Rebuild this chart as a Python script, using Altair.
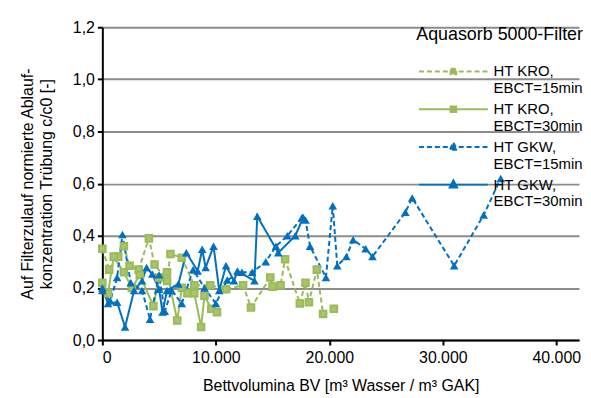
import altair as alt
import pandas as pd

series_names = ["HT KRO, EBCT=15min", "HT KRO, EBCT=30min", "HT GKW, EBCT=15min", "HT GKW, EBCT=30min"]

kro15_x = [0, 600, 1400, 1900, 2400, 3200, 4100, 4600, 5700, 6000, 7000, 8100, 9500, 10900, 12400, 13100,
           14800, 15000, 15700, 16100, 17400, 17900, 18200, 18900, 19450, 20400]
kro15_y = [0.35, 0.27, 0.32, 0.36, 0.285, 0.27, 0.39, 0.29, 0.227, 0.33, 0.316, 0.21, 0.21, 0.195, 0.21, 0.125,
           0.24, 0.205, 0.21, 0.31, 0.14, 0.22, 0.145, 0.27, 0.10, 0.12]

kro30_x = [0, 500, 1000, 1900, 2600, 3300, 4500, 5000, 5700, 6600, 7000, 7500, 8100, 8700, 9000, 9600, 10100]
kro30_y = [0.22, 0.18, 0.32, 0.26, 0.20, 0.25, 0.13, 0.24, 0.26, 0.075, 0.20, 0.18, 0.18, 0.05, 0.17, 0.12, 0.107]

gkw15_x = [0, 700, 1300, 1770, 2500, 3500, 4200, 5000, 5500, 6100, 7000, 8000, 9000, 10000, 11000, 12300,
           13200, 14400, 15300, 16300, 17600, 17900, 18300, 19700, 20300, 20700, 21500, 22100, 23200, 23800,
           26700, 27300, 31000, 33600, 35100]
gkw15_y = [0.19, 0.15, 0.24, 0.405, 0.22, 0.19, 0.08, 0.25, 0.11, 0.19, 0.14, 0.27, 0.20, 0.14, 0.23, 0.26,
           0.26, 0.30, 0.36, 0.40, 0.47, 0.46, 0.36, 0.24, 0.515, 0.285, 0.32, 0.385, 0.35, 0.32,
           0.49, 0.545, 0.285, 0.48, 0.62]

gkw30_x = [0, 500, 1300, 2000, 2800, 3500, 3900, 4400, 5000, 5300, 5700, 6700, 7400, 8400, 8800, 9100, 9800,
           10300, 10900, 11600, 11900, 13400, 13650, 15500, 17000, 17700]
gkw30_y = [0.20, 0.14, 0.145, 0.05, 0.19, 0.227, 0.278, 0.253, 0.195, 0.107, 0.19, 0.215, 0.335, 0.265, 0.348,
           0.278, 0.36, 0.19, 0.285, 0.227, 0.265, 0.227, 0.475, 0.335, 0.40, 0.47]

x_ticks = [0, 10000, 20000, 30000, 40000]
y_ticks = [0.0, 0.2, 0.4, 0.6, 0.8, 1.0, 1.2]

rows = []
for name, xs, ys in zip(series_names, [kro15_x, kro30_x, gkw15_x, gkw30_x], [kro15_y, kro30_y, gkw15_y, gkw30_y]):
    for i, (xv, yv) in enumerate(zip(xs, ys)):
        rows.append({"series": name, "bv": xv, "cc0": yv, "idx": i})
df = pd.DataFrame(rows)

GREEN = "#9BBB59"
BLUE = "#0070C0"
colors = [GREEN, GREEN, BLUE, BLUE]
dashes = [[5, 3], [1, 0], [5, 3], [1, 0]]

# legend symbols: a long line with a marker in the middle
sq = "M-3.1,0L3.1,0M-0.25,-0.25L0.25,-0.25L0.25,0.25L-0.25,0.25Z"
tri = "M-3.1,0L3.1,0M0,-0.38L0.33,0.25L-0.33,0.25Z"
legend_paths = [sq, sq, tri, tri]

x_enc = alt.X("bv:Q", scale=alt.Scale(domain=[0, 42000], nice=False),
              axis=alt.Axis(values=x_ticks, title="Bettvolumina BV [m³ Wasser / m³ GAK]",
                            labelExpr="replace(format(datum.value, ',.0f'), ',', '.')",
                            grid=False))
y_enc = alt.Y("cc0:Q", scale=alt.Scale(domain=[0, 1.2], nice=False),
              axis=alt.Axis(values=y_ticks, title=["Auf Filterzulauf normierte Ablauf-", "konzentration Trübung c/c0 [-]"],
                            labelExpr="replace(format(datum.value, '.1f'), '.', ',')",
                            grid=True))

leg = alt.Legend(title="Aquasorb 5000-Filter", orient="none", legendX=302, legendY=-1,
                 labelExpr="split(replace(datum.label, ', ', ',|'), '|')",
                 symbolSize=500, symbolStrokeWidth=2, symbolOpacity=1,
                 symbolOffset=39, labelOffset=28,
                 labelFontSize=15, titleFontSize=18, titleFontWeight="normal",
                 titleColor="black", labelColor="black", rowPadding=0, padding=0,
                 titleAnchor="end", titlePadding=15, labelBaseline="middle")

base = alt.Chart(df)

line_layers = []
for k, name in enumerate(series_names):
    enc_x = x_enc if k == 0 else alt.X("bv:Q")
    enc_y = y_enc if k == 0 else alt.Y("cc0:Q")
    line_layers.append(
        base.transform_filter(alt.datum.series == name).mark_line(
            strokeWidth=2, strokeDash=dashes[k], color=colors[k]
        ).encode(x=enc_x, y=enc_y, order="idx:Q")
    )

squares = base.transform_filter(
    (alt.datum.series == series_names[0]) | (alt.datum.series == series_names[1])).mark_point(
    shape="square", filled=False, size=44, stroke=GREEN, fill="#a9c46f", fillOpacity=1, strokeWidth=2, opacity=1
).encode(x="bv:Q", y="cc0:Q")

triangles = base.transform_filter(
    (alt.datum.series == series_names[2]) | (alt.datum.series == series_names[3])).mark_point(
    shape="triangle-up", filled=True, size=75, color=BLUE, opacity=1
).encode(x="bv:Q", y="cc0:Q")

legend_layer = base.mark_point(opacity=0, strokeWidth=2, filled=True).encode(
    x="bv:Q", y="cc0:Q",
    fill=alt.Fill("series:N", scale=alt.Scale(domain=series_names, range=colors), legend=leg),
    stroke=alt.Stroke("series:N", scale=alt.Scale(domain=series_names, range=colors), legend=leg),
    shape=alt.Shape("series:N", scale=alt.Scale(domain=series_names, range=legend_paths), legend=leg),
    strokeDash=alt.StrokeDash("series:N", scale=alt.Scale(domain=series_names, range=dashes), legend=leg),
)

chart = alt.layer(*line_layers, squares, triangles, legend_layer).properties(
    width=480, height=315, padding={"top": 10, "left": 11, "right": 0, "bottom": 2}
).configure_axis(
    labelFont="Liberation Sans", titleFont="Liberation Sans", labelFontSize=16, titleFontSize=16,
    labelColor="black", titleColor="black", titleFontWeight="normal",
    domainColor="black", domainWidth=2, tickColor="black", tickWidth=2, tickSize=5,
    gridColor="#8c8c8c", gridWidth=2, gridOpacity=1,
).configure_axisX(titlePadding=12, labelPadding=5).configure_axisY(titlePadding=18, labelPadding=3,
                                                                   titleLineHeight=19
).configure_legend(labelFont="Liberation Sans", titleFont="Liberation Sans"
).configure_view(stroke=None)

chart.save("out.html", embed_options={"renderer": "svg", "actions": False})
